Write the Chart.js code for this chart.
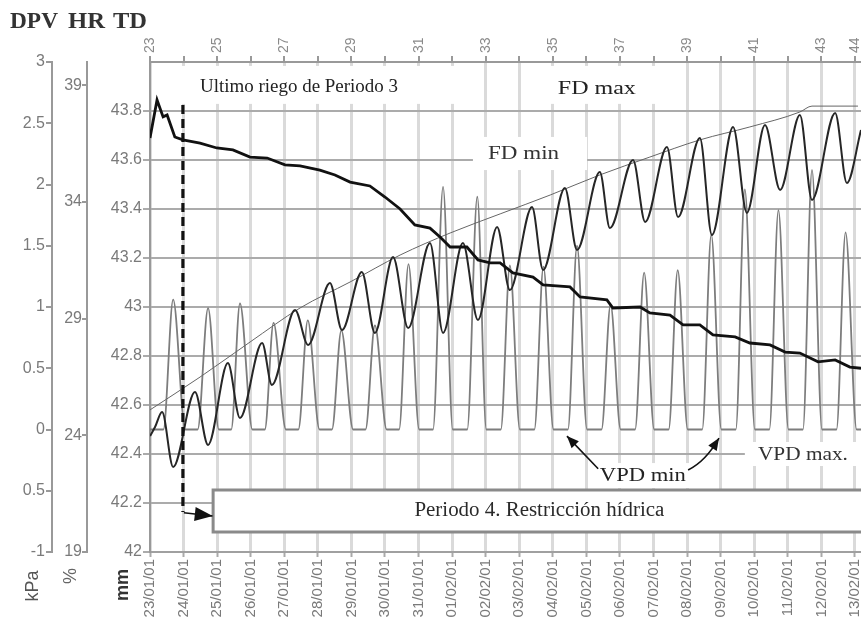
<!DOCTYPE html>
<html><head><meta charset="utf-8">
<script src="https://cdn.jsdelivr.net/npm/chart.js@4.4.1/dist/chart.umd.min.js"></script>
<style>html,body{margin:0;padding:0;background:#fff;}#wrap{width:861px;height:625px;position:relative;}</style>
</head><body><div id="wrap"><canvas id="c"></canvas></div>
<script>
// ---------- data ----------
const dateLabels = ['23/01/01','24/01/01','25/01/01','26/01/01','27/01/01','28/01/01','29/01/01','30/01/01','31/01/01','01/02/01','02/02/01','03/02/01','04/02/01','05/02/01','06/02/01','07/02/01','08/02/01','09/02/01','10/02/01','11/02/01','12/02/01','13/02/01'];
const dayNumbers = [0,1,2,3,4,5,6,7,8,9,10,11,12,13,14,15,16,17,18,19,20,21];
const topLabelDays = [0,2,4,6,8,10,12,14,16,18,20,21];
const topLabels = ['23','25','27','29','31','33','35','37','39','41','43','44'];
const tdTicks = [42,42.2,42.4,42.6,42.8,43,43.2,43.4,43.6,43.8];
const tdTickLabels = ['42','42.2','42.4','42.6','42.8','43','43.2','43.4','43.6','43.8'];
const dpvTicks = [-1,-0.5,0,0.5,1,1.5,2,2.5,3];
const dpvTickLabels = ['-1','0.5','0','0.5','1','1.5','2','2.5','3'];
const hrTicks = [19,24,29,34,39];

// TD (mm) - trunk diameter, declining
const tdDays = [0,0.21,0.39,0.51,0.74,0.98,1.49,1.99,2.47,2.98,3.49,4.02,4.47,5.06,5.51,5.96,6.55,7.00,7.45,7.89,8.34,8.64,8.94,9.44,9.77,10.13,10.43,10.81,11.41,11.71,12.51,12.81,13.61,13.79,14.60,14.89,15.49,15.88,16.38,16.77,17.43,17.87,18.47,18.92,19.36,19.90,20.41,20.85,21.18];
const tdValues = [43.69,43.845,43.776,43.784,43.694,43.682,43.669,43.649,43.641,43.612,43.608,43.580,43.576,43.559,43.539,43.510,43.494,43.449,43.400,43.335,43.322,43.286,43.245,43.245,43.192,43.180,43.180,43.139,43.122,43.090,43.082,43.041,43.029,42.996,43.000,42.976,42.967,42.927,42.927,42.886,42.878,42.853,42.845,42.816,42.812,42.776,42.784,42.755,42.75];

// FD (mm) - daily fluctuating diameter
const fdDays = [0,0.15,0.36,0.69,1.34,1.73,2.32,2.68,3.34,3.63,4.32,4.71,5.36,5.72,6.31,6.70,7.24,7.69,8.34,8.73,9.32,9.77,10.34,10.72,11.38,11.71,12.36,12.72,13.40,13.70,14.39,14.75,15.40,15.73,16.38,16.74,17.37,17.78,18.32,18.77,19.36,19.72,20.41,20.76,21.18];
const fdValues = [42.473,42.51,42.571,42.347,42.653,42.437,42.771,42.547,42.853,42.682,42.988,42.845,43.098,42.906,43.143,42.894,43.204,42.914,43.261,42.894,43.261,42.947,43.327,43.069,43.408,43.151,43.486,43.233,43.551,43.322,43.600,43.347,43.653,43.367,43.690,43.294,43.735,43.384,43.743,43.478,43.784,43.437,43.792,43.506,43.722];

// FD max envelope (mm)
const envDays = [0,1.49,2.98,4.47,5.96,7.45,8.94,10.43,11.92,13.40,14.89,16.38,17.87,19.36,19.72,21.09];
const envValues = [42.58,42.714,42.857,42.996,43.102,43.212,43.302,43.38,43.457,43.539,43.612,43.682,43.735,43.796,43.82,43.82];

// DPV / VPD (kPa)
const vpdDays = [0,0.40,0.69, 1.05,1.42,1.73, 2.05,2.42,2.68, 3.05,3.42,3.68, 4.05,4.42,4.70, 5.05,5.42,5.70, 6.05,6.42,6.70, 7.05,7.42,7.70, 8.02,8.43,8.73, 9.02,9.45,9.75, 10.02,10.45,10.72, 11.02,11.45,11.72, 12.02,12.45,12.72, 13.02,13.45,13.72, 14.02,14.45,14.72, 15.02,15.45,15.72, 16.02,16.45,16.72, 17.02,17.45,17.72, 18.02,18.45,18.72, 19.02,19.45,19.72, 20.02,20.45,20.72, 21.05,21.18];
const vpdValues = [0,0,1.06, 0,0,0.99, 0,0,1.03, 0,0,0.87, 0,0,0.89, 0,0,0.81, 0,0,0.85, 0,0,1.35, 0,0,1.98, 0,0,1.90, 0,0,1.34, 0,0,1.33, 0,0,1.50, 0,0,1.02, 0,0,1.28, 0,0,1.30, 0,0,1.59, 0,0,1.96, 0,0,1.79, 0,0,2.12, 0,0,1.61, 0,0];

const pts = (xs, ys) => xs.map((x, i) => ({x: x, y: ys[i]}));

// ---------- annotations (in data units: day, mm) ----------
const lastIrrigationDay = 0.98;
const SERIF = "'Liberation Serif','Times New Roman',serif";
const SANS = "'Liberation Sans',Arial,sans-serif";

function fitText(ctx, text, x, y, font, width, color, align) {
  ctx.save();
  ctx.font = font;
  ctx.fillStyle = color || '#222';
  ctx.textBaseline = 'middle';
  const w = ctx.measureText(text).width;
  const sx = width ? width / w : 1;
  let x0 = x;
  if (align === 'center') x0 = x - (w * sx) / 2;
  ctx.translate(x0, y);
  ctx.scale(sx, 1);
  ctx.textAlign = 'left';
  ctx.fillText(text, 0, 0);
  ctx.restore();
}
function arrowHead(ctx, fx, fy, tx, ty, len, hw) {
  const a = Math.atan2(ty - fy, tx - fx);
  ctx.beginPath();
  ctx.moveTo(tx, ty);
  ctx.lineTo(tx - len * Math.cos(a) + hw * Math.sin(a), ty - len * Math.sin(a) - hw * Math.cos(a));
  ctx.lineTo(tx - len * Math.cos(a) - hw * Math.sin(a), ty - len * Math.sin(a) + hw * Math.cos(a));
  ctx.closePath();
  ctx.fill();
}

const annot = {
  id: 'annot',
  beforeDatasetsDraw(chart) {
    const ctx = chart.ctx, X = chart.scales.x, Y = chart.scales.yTD;
    const patches = [
      [0.06, 9.53, 43.984, 43.829],
      [11.62, 15.49, 43.984, 43.829],
      [9.62, 13.02, 43.694, 43.559],
      [17.72, 21.3, 42.449, 42.351],
      [13.35, 16.09, 42.363, 42.261]
    ];
    ctx.save();
    ctx.fillStyle = '#fff';
    patches.forEach(p => {
      const x0 = X.getPixelForValue(p[0]), x1 = X.getPixelForValue(p[1]);
      const y0 = Y.getPixelForValue(p[2]), y1 = Y.getPixelForValue(p[3]);
      ctx.fillRect(x0, y0, x1 - x0, y1 - y0);
    });
    ctx.restore();
  },
  afterDatasetsDraw(chart) {
    const ctx = chart.ctx, X = chart.scales.x, Y = chart.scales.yTD;
    const gx = d => X.getPixelForValue(d), gy = v => Y.getPixelForValue(v);
    // Periodo 4 box
    ctx.save();
    const bx = gx(1.88), by0 = gy(42.253), by1 = gy(42.082);
    ctx.fillStyle = '#fff';
    ctx.fillRect(bx, by0, 900 - bx, by1 - by0);
    ctx.strokeStyle = '#8a8a8a';
    ctx.lineWidth = 3;
    ctx.beginPath();
    ctx.moveTo(900, by0); ctx.lineTo(bx, by0); ctx.lineTo(bx, by1); ctx.lineTo(900, by1);
    ctx.stroke();
    ctx.restore();
    fitText(ctx, 'Periodo 4. Restricción hídrica', gx(11.6), gy(42.167), '20px ' + SERIF, 250, '#2a2a2a', 'center');

    // dashed line for last irrigation
    ctx.save();
    const dx = gx(lastIrrigationDay);
    ctx.strokeStyle = '#111';
    ctx.lineWidth = 3.2;
    ctx.setLineDash([9, 5]);
    ctx.beginPath();
    ctx.moveTo(dx, gy(43.824));
    ctx.lineTo(dx, gy(42.163));
    ctx.stroke();
    ctx.setLineDash([]);
    ctx.lineWidth = 1.5;
    ctx.beginPath();
    ctx.moveTo(dx + 1, gy(42.160));
    ctx.lineTo(gx(1.86), gy(42.147));
    ctx.stroke();
    ctx.fillStyle = '#111';
    arrowHead(ctx, dx + 1, gy(42.160), gx(1.87), gy(42.147), 18, 7);
    ctx.restore();

    // VPD min arrows
    ctx.save();
    ctx.strokeStyle = '#111'; ctx.fillStyle = '#111'; ctx.lineWidth = 1.6;
    let fx = gx(13.35), fy = gy(42.34), tx = gx(12.42), ty = gy(42.473);
    ctx.beginPath(); ctx.moveTo(fx, fy); ctx.lineTo(tx, ty); ctx.stroke();
    arrowHead(ctx, fx, fy, tx, ty, 12, 5);
    fx = gx(16.03); fy = gy(42.335); tx = gx(16.95); ty = gy(42.465);
    ctx.beginPath(); ctx.moveTo(fx, fy); ctx.quadraticCurveTo(gx(16.55), gy(42.37), tx, ty); ctx.stroke();
    arrowHead(ctx, gx(16.6), gy(42.39), tx, ty, 12, 5);
    ctx.restore();

    // text labels
    fitText(ctx, 'Ultimo riego de Periodo 3', gx(1.49), gy(43.898), '19px ' + SERIF, 198, '#222');
    fitText(ctx, 'FD max', gx(12.15), gy(43.890), '19px ' + SERIF, 78, '#222');
    fitText(ctx, 'FD min', gx(10.07), gy(43.624), '19px ' + SERIF, 71, '#333');
    fitText(ctx, 'VPD max.', gx(18.11), gy(42.396), '19px ' + SERIF, 90, '#333');
    fitText(ctx, 'VPD min', gx(13.40), gy(42.310), '19px ' + SERIF, 86, '#222');
  },
  afterDraw(chart) {
    const ctx = chart.ctx;
    // header
    fitText(ctx, 'DPV', 10, 22, 'bold 23px ' + SERIF, 48, '#333');
    fitText(ctx, 'HR', 68, 22, 'bold 23px ' + SERIF, 37, '#333');
    fitText(ctx, 'TD', 113, 22, 'bold 23px ' + SERIF, 34, '#333');
    // unit labels (rotated)
    const unit = (t, x, y, font, col) => {
      ctx.save();
      ctx.translate(x, y);
      ctx.rotate(-Math.PI / 2);
      ctx.font = font; ctx.fillStyle = col;
      ctx.textAlign = 'center'; ctx.textBaseline = 'middle';
      ctx.fillText(t, 0, 0);
      ctx.restore();
    };
    unit('kPa', 33, 586, '18px ' + SANS, '#555');
    unit('%', 71, 576, '18px ' + SANS, '#666');
    unit('mm', 123, 585, 'bold 18px ' + SANS, '#333');
  }
};

const zeroPad = s => { s.paddingLeft = 0; s.paddingRight = 0; s.paddingTop = 0; s.paddingBottom = 0; };

new Chart(document.getElementById('c'), {
  type: 'line',
  data: {
    datasets: [
      { label: 'DPV', data: pts(vpdDays, vpdValues), yAxisID: 'yDPV', borderColor: '#7d7d7d', borderWidth: 1.8, pointRadius: 0, cubicInterpolationMode: 'monotone', order: 4 },
      { label: 'FD max', data: pts(envDays, envValues), yAxisID: 'yTD', borderColor: '#666', borderWidth: 1, pointRadius: 0, cubicInterpolationMode: 'monotone', order: 3 },
      { label: 'FD', data: pts(fdDays, fdValues), yAxisID: 'yTD', borderColor: '#262626', borderWidth: 2, pointRadius: 0, cubicInterpolationMode: 'monotone', order: 2 },
      { label: 'TD', data: pts(tdDays, tdValues), yAxisID: 'yTD', borderColor: '#111', borderWidth: 2.8, pointRadius: 0, tension: 0, order: 1 }
    ]
  },
  options: {
    responsive: true, maintainAspectRatio: false, animation: false,
    devicePixelRatio: 1,
    layout: { padding: 0 },
    plugins: { legend: { display: false }, tooltip: { enabled: false }, title: { display: false } },
    scales: {
      x: {
        type: 'linear', position: 'bottom', min: 0, max: 21.18,
        afterBuildTicks: s => { s.ticks = dayNumbers.map(v => ({ value: v })); },
        afterFit: s => { s.height = 73; zeroPad(s); },
        ticks: { autoSkip: false, minRotation: 90, maxRotation: 90, padding: 2, color: '#7a7a7a', font: { family: SANS, size: 15 },
                 callback: v => dateLabels[Math.round(v)] },
        grid: { color: '#dadada', lineWidth: 3, tickLength: 5, tickColor: '#aaa', tickWidth: 2 },
        border: { display: true, color: '#a0a0a0', width: 2 }
      },
      xTop: {
        type: 'linear', position: 'top', min: 0, max: 21.18,
        afterBuildTicks: s => { s.ticks = dayNumbers.map(v => ({ value: v })); },
        afterFit: s => { s.height = 62; zeroPad(s); },
        ticks: { autoSkip: false, minRotation: 90, maxRotation: 90, padding: 3, labelOffset: 17, color: '#8a8a8a', font: { family: SANS, size: 14 },
                 callback: v => { const i = topLabelDays.indexOf(Math.round(v)); return i >= 0 ? topLabels[i] : ''; } },
        grid: { drawOnChartArea: false, tickLength: 6, color: '#999', lineWidth: 2 },
        border: { display: true, color: '#999', width: 2 }
      },
      yTD: {
        type: 'linear', position: 'left', min: 42, max: 44, weight: 0,
        afterBuildTicks: s => { s.ticks = tdTicks.map(v => ({ value: v })); },
        afterFit: s => { s.width = 63; zeroPad(s); },
        ticks: { padding: 1, color: '#7a7a7a', font: { family: SANS, size: 16 },
                 callback: v => tdTickLabels[tdTicks.indexOf(v)] },
        grid: { color: '#ababab', lineWidth: 2, tickLength: 7 },
        border: { display: true, color: '#999', width: 2 }
      },
      yHR: {
        type: 'linear', position: 'left', min: 19, max: 40, weight: 1,
        afterBuildTicks: s => { s.ticks = hrTicks.map(v => ({ value: v })); },
        afterFit: s => { s.width = 35; zeroPad(s); },
        ticks: { padding: 0, color: '#7a7a7a', font: { family: SANS, size: 16 }, callback: v => String(v) },
        grid: { drawOnChartArea: false, tickLength: 5, color: '#999', lineWidth: 2 },
        border: { display: true, color: '#999', width: 2 }
      },
      yDPV: {
        type: 'linear', position: 'left', min: -1, max: 3, weight: 2,
        afterBuildTicks: s => { s.ticks = dpvTicks.map(v => ({ value: v })); },
        afterFit: s => { s.width = 52; zeroPad(s); },
        ticks: { padding: 1, color: '#7a7a7a', font: { family: SANS, size: 16 },
                 callback: v => dpvTickLabels[dpvTicks.indexOf(v)] },
        grid: { drawOnChartArea: false, tickLength: 6, color: '#999', lineWidth: 2 },
        border: { display: true, color: '#999', width: 2 }
      }
    }
  },
  plugins: [annot]
});
</script>
</body></html>
